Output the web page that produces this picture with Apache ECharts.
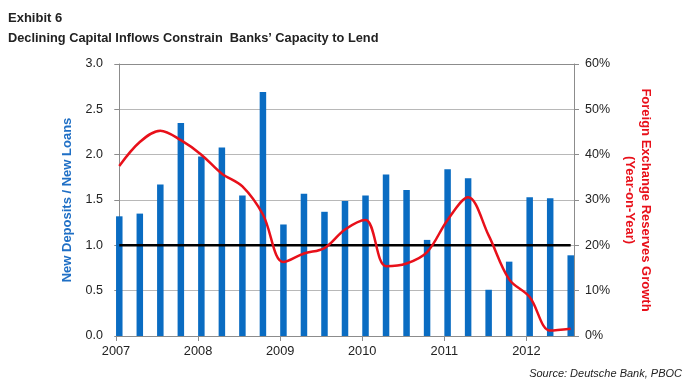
<!DOCTYPE html>
<html>
<head>
<meta charset="utf-8">
<script src="https://cdn.jsdelivr.net/npm/echarts@6/dist/echarts.min.js"></script>
<style>
html,body{margin:0;padding:0;background:#fff;}
#c{width:693px;height:382px;}
</style>
</head>
<body>
<div id="c"></div>
<script>
// ---- data ----
const quarters = ['2007Q1','2007Q2','2007Q3','2007Q4','2008Q1','2008Q2','2008Q3','2008Q4',
  '2009Q1','2009Q2','2009Q3','2009Q4','2010Q1','2010Q2','2010Q3','2010Q4',
  '2011Q1','2011Q2','2011Q3','2011Q4','2012Q1','2012Q2','2012Q3'];
const depositLoanRatio = [1.32,1.35,1.67,2.35,1.98,2.08,1.55,2.69,1.23,1.57,1.37,1.49,
  1.55,1.78,1.61,1.06,1.84,1.74,0.51,0.82,1.53,1.52,0.89];
const fxReserveGrowth = [37.5,42.8,45.3,43.2,40.0,35.8,33.0,26.8,16.3,18.2,19.4,23.5,
  25.6,15.4,16.0,18.5,25.6,30.6,22.2,12.5,8.6,1.2,1.6];
const parityLine = [1,1,1,1,1,1,1,1,1,1,1,1,1,1,1,1,1,1,1,1,1,1,1];
const yearLabels = ['2007','2008','2009','2010','2011','2012'];
const leftTicks = ['0.0','0.5','1.0','1.5','2.0','2.5','3.0'];
const rightTicks = ['0%','10%','20%','30%','40%','50%','60%'];

const X_MIN = -0.16, X_MAX = 22.16, X_INT = 4;
const FONT = '"Liberation Sans", Arial, sans-serif';

const chart = echarts.init(document.getElementById('c'), null, {renderer: 'canvas'});
const pairs = arr => arr.map((v, i) => [i, v]);

chart.setOption({
  animation: false,
  backgroundColor: '#fff',
  textStyle: {fontFamily: FONT},
  title: [
    {text: 'Exhibit 6', left: 3, top: 7, textStyle: {fontFamily: FONT, fontSize: 13, fontWeight: 'bold', color: '#222'}},
    {text: 'Declining Capital Inflows Constrain  Banks\u2019 Capacity to Lend', left: 3, top: 27, textStyle: {fontFamily: FONT, fontSize: 12.8, fontWeight: 'bold', color: '#222'}},
    {text: 'Source: Deutsche Bank, PBOC', right: 6, top: 363, textStyle: {fontFamily: FONT, fontSize: 11, fontStyle: 'italic', fontWeight: 'normal', color: '#222'}}
  ],
  grid: {left: 116, right: 119, top: 64, bottom: 46, containLabel: false},
  xAxis: {
    type: 'value', min: X_MIN, max: X_MAX, interval: X_INT,
    axisLine: {show: true, lineStyle: {color: '#8c8c8c', width: 1}},
    axisTick: {show: true, length: 5, lineStyle: {color: '#8c8c8c'}},
    splitLine: {show: false},
    axisLabel: {
      margin: 9, fontSize: 12.8, color: '#222', fontFamily: FONT,
      showMaxLabel: false,
      formatter: v => {
        const k = Math.round((v - X_MIN) / X_INT);
        if (Math.abs(v - (X_MIN + k * X_INT)) > 1e-6) return '';
        return yearLabels[k] || '';
      }
    }
  },
  yAxis: [
    {
      type: 'value', min: 0, max: 3, interval: 0.5, position: 'left',
      name: 'New Deposits / New Loans', nameLocation: 'middle', nameGap: 42, nameRotate: 90,
      nameTextStyle: {color: '#1F6FC5', fontWeight: 'bold', fontSize: 13, fontFamily: FONT},
      axisLine: {show: true, lineStyle: {color: '#8c8c8c'}},
      axisTick: {show: true, length: 5, lineStyle: {color: '#8c8c8c'}},
      axisLabel: {margin: 13, fontSize: 12.5, color: '#222', fontFamily: FONT,
        formatter: v => leftTicks[Math.round(v / 0.5)]},
      splitLine: {show: true, lineStyle: {color: ['#b8b8b8','#b8b8b8','#b8b8b8','#b8b8b8','#b8b8b8','#b8b8b8','#8c8c8c'], width: 1}}
    },
    {
      type: 'value', min: 0, max: 60, interval: 10, position: 'right',
      name: 'Foreign Exchange Reserves Growth\n(Year-on-Year)', nameLocation: 'middle', nameGap: 48, nameRotate: -90,
      nameTextStyle: {color: '#E8101A', fontWeight: 'bold', fontSize: 13, fontFamily: FONT, lineHeight: 16, align: 'center'},
      axisLine: {show: true, lineStyle: {color: '#8c8c8c'}},
      axisTick: {show: true, length: 5, lineStyle: {color: '#8c8c8c'}},
      axisLabel: {margin: 11, fontSize: 12.5, color: '#222', fontFamily: FONT,
        formatter: v => rightTicks[Math.round(v / 10)]},
      splitLine: {show: false}
    }
  ],
  series: [
    {
      name: 'New Deposits / New Loans', type: 'bar', yAxisIndex: 0,
      data: pairs(depositLoanRatio), barWidth: 6.5,
      itemStyle: {color: '#0A6CC2'}
    },
    {
      name: 'Parity', type: 'line', yAxisIndex: 0,
      data: pairs(parityLine), symbol: 'none',
      lineStyle: {color: '#000', width: 2.5}
    },
    {
      name: 'FX Reserves Growth', type: 'line', yAxisIndex: 1,
      data: pairs(fxReserveGrowth), symbol: 'none', smooth: 0.35,
      lineStyle: {color: '#E8101A', width: 2.5}
    }
  ]
});
</script>
</body>
</html>
